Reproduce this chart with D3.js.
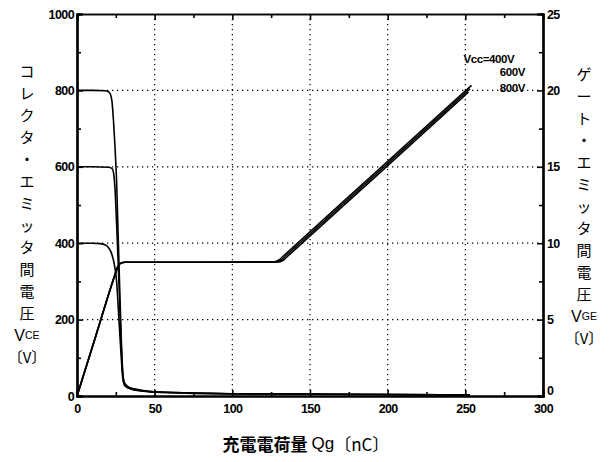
<!DOCTYPE html>
<html>
<head>
<meta charset="utf-8">
<script src="https://cdn.jsdelivr.net/npm/d3@7"></script>
<style>
  body { margin: 0; background: #fff; }
  text { fill: #000; }
</style>
</head>
<body>
<div id="graph"></div>
<script>
// collector-emitter voltage VCE (left axis) vs gate charge Qg
const vce400 = [[0,400],[10,400],[15,399],[18,396],[20,390],[22,376],[24,345],[25.5,300],[27,200],[28.5,100],[29.5,45],[31,26],[35,18],[40,14],[50,10],[75,7],[100,6],[150,5],[200,4],[253,3]];
const vce600 = [[0,600],[10,600],[20,599],[22.5,596],[23.5,585],[24.5,540],[25.5,450],[26.5,350],[27.5,240],[28.5,130],[29.5,55],[30.5,32],[33,22],[40,15],[50,11],[75,8],[100,6],[150,5],[200,4],[253,3]];
const vce800 = [[0,800],[10,800],[18,799],[20,797],[21.5,790],[22.5,772],[23.5,720],[24.5,650],[25.5,560],[26.5,420],[27.5,280],[28.5,150],[29.5,60],[30.5,35],[33,24],[40,16],[50,11],[75,8],[100,6],[150,5],[200,4],[253,3]];

// gate-emitter voltage VGE (right axis) vs gate charge Qg
const vge400 = [[0,0],[12,3.9],[24,7.8],[26,8.4],[28,8.68],[31,8.75],[80,8.75],[127,8.78],[130,8.9],[133,9.18],[194,14.8],[254,20.33]];
const vge600 = [[0,0],[12,3.9],[24,7.8],[26,8.4],[28,8.68],[31,8.75],[80,8.75],[128.5,8.78],[131.5,8.9],[134.5,9.18],[194,14.66],[253,20.1]];
const vge800 = [[0,0],[12,3.9],[24,7.8],[26,8.4],[28,8.68],[31,8.75],[80,8.75],[130,8.78],[133,8.9],[136,9.18],[194,14.52],[252,19.88]];

const xTicks = [0, 50, 100, 150, 200, 250, 300];
const leftTicks = [0, 200, 400, 600, 800, 1000];
const rightTicks = [0, 5, 10, 15, 20, 25];
const vccLabels = ["Vcc=400V", "600V", "800V"];
const leftTitle = ["コ","レ","ク","タ","・","エ","ミ","ッ","タ","間","電","圧"];
const rightTitle = ["ゲ","ー","ト","・","エ","ミ","ッ","タ","間","電","圧"];

const width = 611, height = 462;
const margin = {left: 77, right: 68, top: 14, bottom: 66};
const w = width - margin.left - margin.right;
const h = height - margin.top - margin.bottom;

const svg = d3.select("#graph").append("svg")
  .attr("width", width).attr("height", height)
  .style("font-family", "'Liberation Sans', Arial, sans-serif");

const g = svg.append("g").attr("transform", `translate(${margin.left},${margin.top})`);

const x = d3.scaleLinear().domain([0, 300]).range([0, w]);
const yL = d3.scaleLinear().domain([0, 1000]).range([h, 0]);
const yR = d3.scaleLinear().domain([0, 25]).range([h, 0]);

// dotted grid
g.append("g").selectAll("line").data([50, 100, 150, 200, 250]).enter().append("line")
  .attr("x1", d => x(d)).attr("x2", d => x(d)).attr("y1", 0).attr("y2", h)
  .attr("stroke", "#000").attr("stroke-width", 1.2).attr("stroke-dasharray", "1.3,3.7");
g.append("g").selectAll("line").data([200, 400, 600, 800]).enter().append("line")
  .attr("x1", 0).attr("x2", w).attr("y1", d => yL(d)).attr("y2", d => yL(d))
  .attr("stroke", "#000").attr("stroke-width", 1.2).attr("stroke-dasharray", "1.3,3.7");

function styleAxis(sel, lw) {
  sel.select(".domain").attr("stroke-width", lw);
  sel.selectAll(".tick line").attr("stroke-width", 1.6);
  sel.selectAll(".tick text").attr("font-size", 12.5).attr("font-weight", "bold")
    .attr("letter-spacing", "-0.6");
}

// minor ticks
g.append("g").attr("transform", `translate(0,${h})`)
  .call(d3.axisBottom(x).tickValues(d3.range(25, 300, 50)).tickSize(-4).tickFormat(""))
  .call(s => styleAxis(s, 2));
g.append("g")
  .call(d3.axisTop(x).tickValues(d3.range(25, 300, 50)).tickSize(-4).tickFormat(""))
  .call(s => styleAxis(s, 1.4));
g.append("g")
  .call(d3.axisLeft(yL).tickValues(d3.range(100, 1000, 200)).tickSize(-4).tickFormat(""))
  .call(s => styleAxis(s, 2.2));
g.append("g").attr("transform", `translate(${w},0)`)
  .call(d3.axisRight(yR).tickValues(d3.range(2.5, 25, 5)).tickSize(-4).tickFormat(""))
  .call(s => styleAxis(s, 2.2));

// major ticks with labels
g.append("g").attr("transform", `translate(0,${h})`)
  .call(d3.axisBottom(x).tickValues(xTicks).tickSize(-6).tickPadding(8).tickFormat(d3.format("d")))
  .call(s => styleAxis(s, 2));
g.append("g")
  .call(d3.axisTop(x).tickValues(xTicks).tickSize(-6).tickFormat(""))
  .call(s => styleAxis(s, 1.4));
g.append("g")
  .call(d3.axisLeft(yL).tickValues(leftTicks).tickSize(-6).tickPadding(3).tickFormat(d3.format("d")))
  .call(s => styleAxis(s, 2.2));
g.append("g").attr("transform", `translate(${w},0)`)
  .call(d3.axisRight(yR).tickValues(rightTicks).tickSize(-6).tickPadding(4).tickFormat(d3.format("d")))
  .call(s => styleAxis(s, 2.2))
  .call(s => s.selectAll(".tick text").filter(d => d === 0).attr("dy", "-0.1em"));

// curves
const lineL = d3.line().x(d => x(d[0])).y(d => yL(d[1])).curve(d3.curveMonotoneX);
const lineR = d3.line().x(d => x(d[0])).y(d => yR(d[1])).curve(d3.curveMonotoneX);

[vce400, vce600, vce800].forEach(s => {
  g.append("path").datum(s).attr("d", lineL)
    .attr("fill", "none").attr("stroke", "#000").attr("stroke-width", 1.6);
});
[vge400, vge600, vge800].forEach(s => {
  g.append("path").datum(s).attr("d", lineR)
    .attr("fill", "none").attr("stroke", "#000").attr("stroke-width", 1.6);
});

// Vcc labels
g.append("text").attr("x", x(254) - 8).attr("y", yR(21.8)).attr("font-size", 11.5).attr("font-weight", "bold")
  .attr("letter-spacing", "-0.4").text(vccLabels[0]);
g.append("text").attr("x", w - 18).attr("y", yR(20.95)).attr("text-anchor", "end").attr("font-size", 11.5)
  .attr("font-weight", "bold").attr("letter-spacing", "-0.4").text(vccLabels[1]);
g.append("text").attr("x", w - 18).attr("y", yR(19.9)).attr("text-anchor", "end").attr("font-size", 11.5)
  .attr("font-weight", "bold").attr("letter-spacing", "-0.4").text(vccLabels[2]);

// vertical axis titles
function vTitle(chars, cx, y0, sub) {
  const t = svg.append("g");
  chars.forEach((c, i) => {
    t.append("text").attr("x", cx).attr("y", y0 + i * 22).attr("text-anchor", "middle")
      .attr("dominant-baseline", "central").attr("font-size", 15)
      .style("font-family", "'Noto Sans CJK JP', sans-serif").text(c);
  });
  const yv = y0 + chars.length * 22 + 1;
  const v = t.append("text").attr("x", cx).attr("y", yv).attr("text-anchor", "middle")
    .attr("dominant-baseline", "central").attr("font-size", 16);
  v.append("tspan").text("V");
  v.append("tspan").attr("font-size", 10.5).text(sub);
  t.append("text").attr("x", cx).attr("y", yv + 21).attr("text-anchor", "middle")
    .attr("dominant-baseline", "central").attr("font-size", 15)
    .style("font-family", "'Noto Sans CJK JP', sans-serif").text("〔V〕");
}
vTitle(leftTitle, 27, 70, "CE");
vTitle(rightTitle, 584, 73, "GE");

// x axis title
const xt = svg.append("text").attr("x", 306).attr("y", 443).attr("text-anchor", "middle")
  .attr("dominant-baseline", "central").attr("font-size", 17);
xt.append("tspan").attr("font-weight", "bold").style("font-family", "'Noto Sans CJK JP', sans-serif").text("充電電荷量 ");
xt.append("tspan").style("font-family", "'Liberation Sans', Arial, sans-serif").text("Qg");
xt.append("tspan").style("font-family", "'Noto Sans CJK JP', sans-serif").text("〔nC〕");
</script>
</body>
</html>
